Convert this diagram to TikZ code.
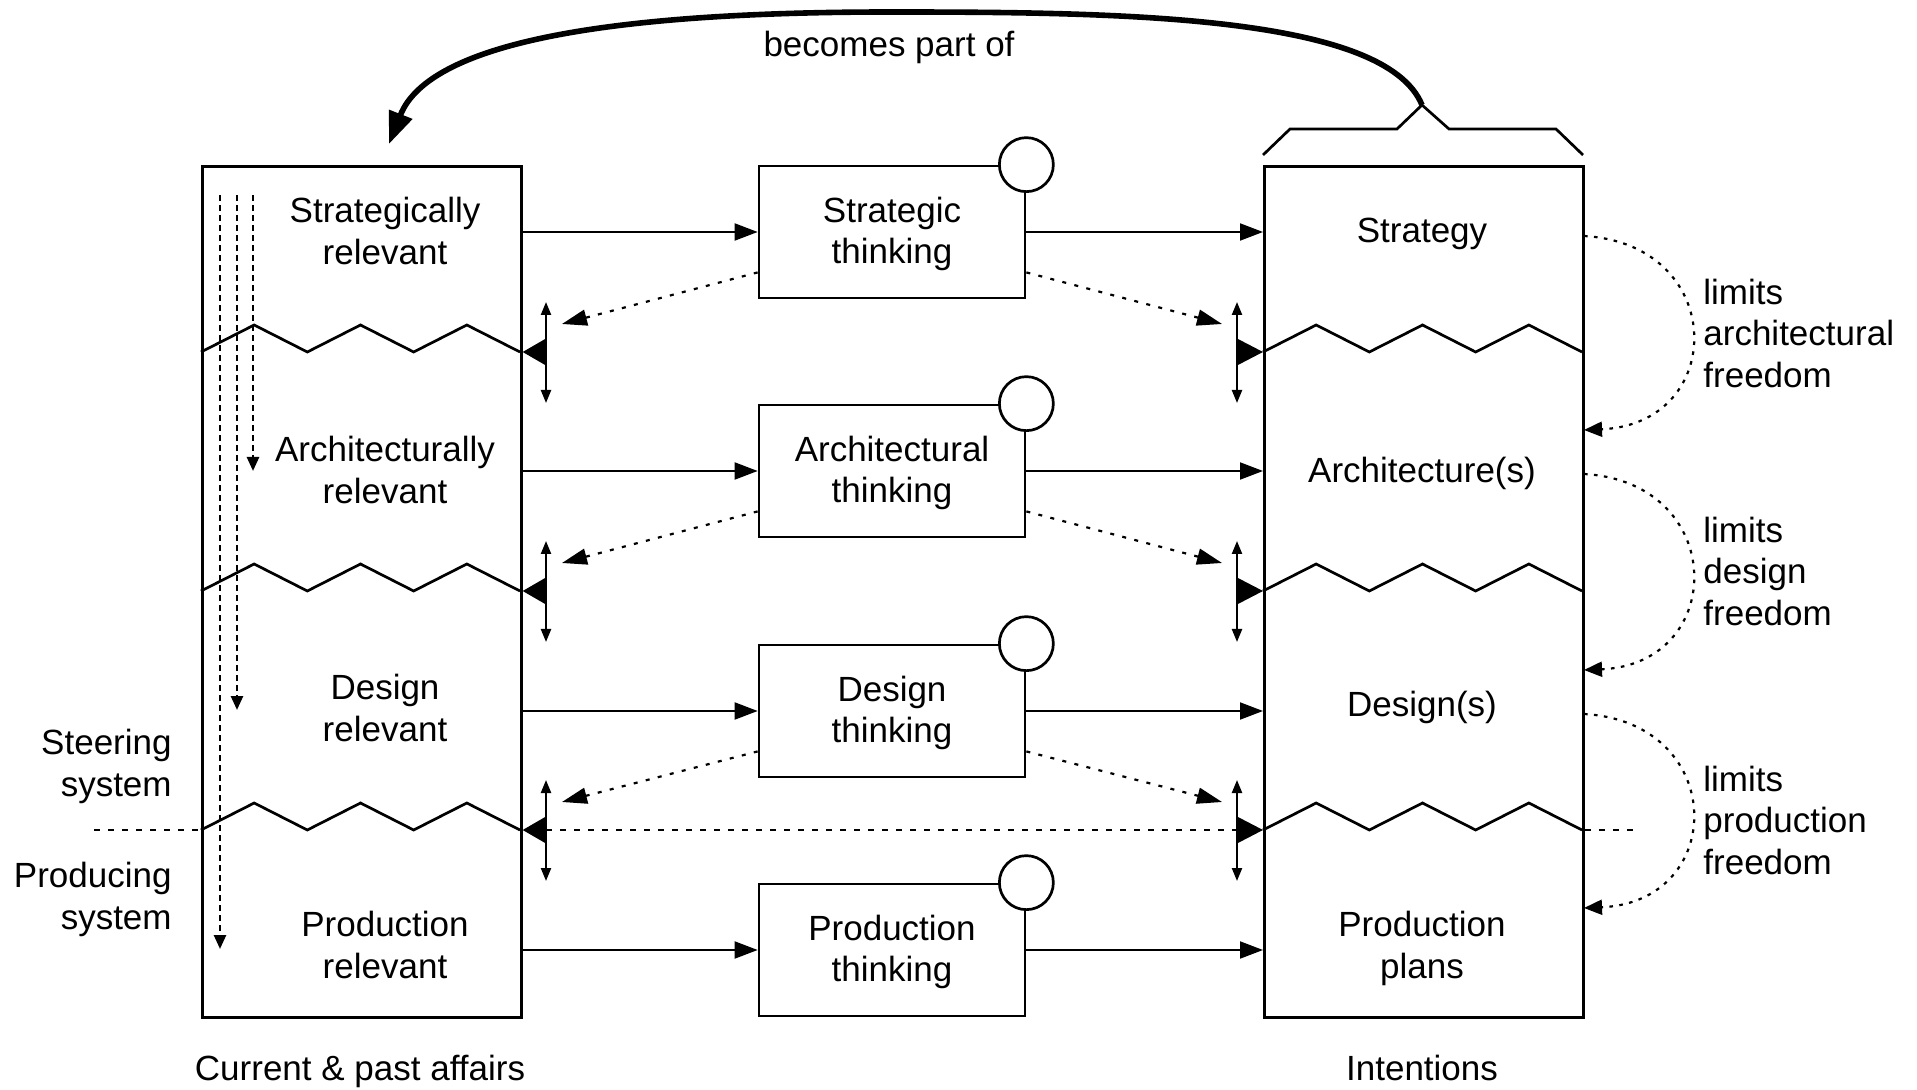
\documentclass[tikz,border=0pt]{standalone}
\usepackage{fontspec}
\setmainfont{Liberation Sans}
\usetikzlibrary{arrows.meta,calc}

\begin{document}
\begin{tikzpicture}[x=0.5pt,y=-0.5pt,
  every node/.style={font=\fontsize{17.5}{20.8}\selectfont, inner sep=0pt, align=center, text depth=0pt},
  frame/.style={draw, line width=1.35pt},
  bigbox/.style={frame, minimum width=159.5pt, minimum height=425.5pt, anchor=north west},
  thinkbox/.style={frame, fill=white, minimum width=133pt, minimum height=66pt, text depth=1.6pt},
  knob/.style={circle, draw, fill=white, line width=1.35pt, minimum size=27pt},
  zig/.style={line width=1.35pt, line join=miter},
  flow/.style={line width=1pt, -{Triangle[length=11.5pt,width=8.5pt]}},
  feedback/.style={line width=1.1pt, dash pattern=on 2pt off 4.2pt, -{Triangle[length=12.5pt,width=8pt]}},
  borderarrow/.style={line width=1.1pt, {Triangle[length=6.5pt,width=5pt]}-{Triangle[length=6.5pt,width=5pt]}},
  descend/.style={line width=1.3pt, dash pattern=on 3pt off 2pt, -{Triangle[length=7pt,width=6pt]}},
  limits/.style={line width=1.1pt, dash pattern=on 1.8pt off 3.2pt, -{Triangle[length=9pt,width=7.5pt]}},
  divider/.style={line width=1pt, dash pattern=on 3pt off 4pt},
  side/.style={align=left, anchor=west},
]
\useasboundingbox (0,0) rectangle (1917,1090);

% the two columns
\node[bigbox] (cur) at (201,165) {};
\node[bigbox] (intent) at (1263,165) {};

% layer texts in the columns
\node (cs) at (385,231) {Strategically\\relevant};
\node (ca) at (385,470) {Architecturally\\relevant};
\node (cd) at (385,708) {Design\\relevant};
\node (cp) at (385,945) {Production\\relevant};

\node (is) at (1422,230) {Strategy};
\node (ia) at (1422,470) {Architecture(s)};
\node (id) at (1422,704) {Design(s)};
\node (ip) at (1422,945) {Production\\plans};

% thinking activities
\node[thinkbox] (ts) at (892,232) {Strategic\\thinking};
\node[thinkbox] (ta) at (892,471) {Architectural\\thinking};
\node[thinkbox] (td) at (892,711) {Design\\thinking};
\node[thinkbox] (tp) at (892,950) {Production\\thinking};

\foreach \t in {ts,ta,td,tp} {
  \node[knob] (k\t) at (\t.north east) {};
}

% flows through the thinking activities
\foreach \t in {ts,ta,td,tp} {
  \draw[flow] (\t.west -| cur.east) -- (\t.west);
  \draw[flow] (\t.east) -- (\t.east -| intent.west);
}

% zigzag boundaries between the layers, with movable borders
\foreach \y [count=\n] in {352,591,830} {
  \draw[zig] (201,\y) \foreach \i in {1,...,6} { -- ({201+\i*53.1667},{\y-27*mod(\i,2)}) };
  \draw[zig] (1263,\y) \foreach \i in {1,...,6} { -- ({1263+\i*53.1667},{\y-27*mod(\i,2)}) };
  \coordinate (lu\n) at (546,\y-50);
  \coordinate (ld\n) at (546,\y+51);
  \coordinate (ru\n) at (1237,\y-50);
  \coordinate (rd\n) at (1237,\y+51);
  \draw[borderarrow] (lu\n) -- (ld\n);
  \draw[borderarrow] (ru\n) -- (rd\n);
  \fill (cur.east |- 0,\y) -- (546,\y-13.5) -- (546,\y+13.5) -- cycle;
  \fill (intent.west |- 0,\y) -- (1237,\y-13.5) -- (1237,\y+13.5) -- cycle;
  \coordinate (lt\n) at (562,\y-28);
  \coordinate (rt\n) at (1222,\y-28);
}

% feedback from thinking to the borders
\foreach \t/\n in {ts/1,ta/2,td/3} {
  \draw[feedback] ($(\t.south west)!0.2!(\t.north west)$) -- (lt\n);
  \draw[feedback] ($(\t.south east)!0.2!(\t.north east)$) -- (rt\n);
}

% relevance descending through the layers
\coordinate (d1s) at (253,195); \coordinate (d1e) at (253,471);
\coordinate (d2s) at (237,195); \coordinate (d2e) at (237,710);
\coordinate (d3s) at (220,195); \coordinate (d3e) at (220,949);
\draw[descend] (d1s) -- (d1e);
\draw[descend] (d2s) -- (d2e);
\draw[descend] (d3s) -- (d3e);

% steering / producing divider
\coordinate (dvl) at (94,830);
\coordinate (dvr) at (1635,830);
\draw[divider] (dvl) -- (cur.west |- dvl);
\draw[divider] (ld3 |- dvl) -- (rd3 |- dvl);
\draw[divider] (intent.east |- dvr) -- (dvr);
\node[anchor=east, align=right] (steer) at (172,763) {Steering\\system};
\node[anchor=east, align=right] (prod) at (172,896) {Producing\\system};

% limits on the right
\foreach \a/\b in {236/430,474/670,714/908} {
  \draw[limits] (1584,\a) .. controls (1728,\a+8) and (1728,\b-6) .. (1584,\b);
}
\node[side] (l1) at (1703,333) {limits\\architectural\\freedom};
\node[side] (l2) at (1703,571) {limits\\design\\freedom};
\node[side] (l3) at (1703,820) {limits\\production\\freedom};

% brace over intentions and the loop back
\draw[line width=1.35pt] (1263,155) -- (1290,129) -- (1397,129) -- (1422,105) -- (1449,129) -- (1556,129) -- (1583,155);
\coordinate (peak) at (1422,105);
\coordinate (back) at (389,144);
\draw[line width=2.8pt, -{Triangle[length=16pt,width=12pt]}] (peak) .. controls (1385,15) and (1120,12) .. (890,12) .. controls (620,12) and (430,40) .. (back);
\node (bp) at (889,44) {becomes part of};

% column captions
\node (capl) at (360,1068) {Current \& past affairs};
\node (capr) at (1422,1068) {Intentions};
\end{tikzpicture}
\end{document}
